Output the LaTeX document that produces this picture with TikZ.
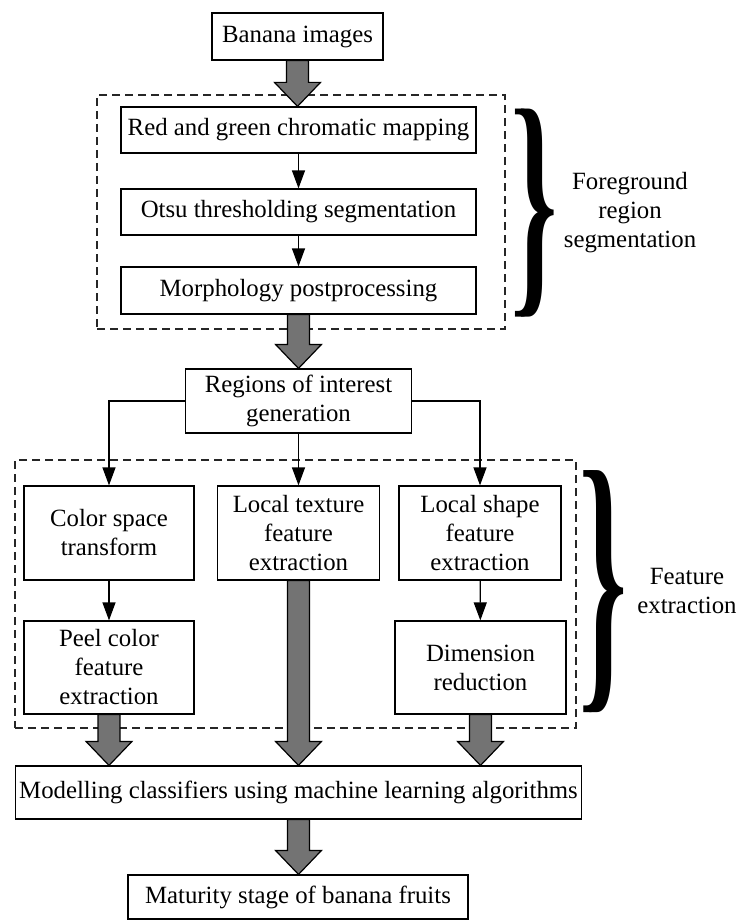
\documentclass[tikz,border=0pt]{standalone}
\usepackage{fontspec}
\setmainfont{Liberation Serif}
\usetikzlibrary{arrows.meta,calc,fit,backgrounds}
\tikzset{
  bnbox/.style={draw=black, line width=0.6pt, align=center, inner sep=2pt, fill=white,
    font=\fontsize{12.4}{14.5}\selectfont},
  bnarrow/.style={-{Triangle[length=9pt,width=6.5pt]}, line width=0.6pt},
  bnfat/.style={draw=black, fill=black!55, line width=0.6pt},
  bnframe/.style={draw=black!85, dash pattern=on 4pt off 2.5pt, line width=0.6pt, inner sep=0pt},
  bnlabel/.style={align=center, font=\fontsize{12.4}{14.5}\selectfont}
}
% wide grey arrow from the start point straight down to the tip
\newcommand{\fatarrow}[2]{%
  \draw[bnfat] let \p1=(#1), \p2=(#2) in
    (\x1-5.5pt,\y1) -- (\x1-5.5pt,\y2+12pt) -- (\x1-11.5pt,\y2+12pt) -- (\x1,\y2)
    -- (\x1+11.5pt,\y2+12pt) -- (\x1+5.5pt,\y2+12pt) -- (\x1+5.5pt,\y1) -- cycle;}
% heavy stretched curly brace
\newcommand{\bigbrace}[2]{\resizebox*{#1}{#2}{\rlap{\}}\kern0.05em\}}}

\begin{document}
\begin{tikzpicture}[x=0.5pt,y=-0.5pt]
  \useasboundingbox (0,0) rectangle (738,920);
  \node[bnbox, minimum width=85.5pt, minimum height=23.5pt] (banana) at (297.5,36.5) {Banana images};
  \node[bnbox, minimum width=177.5pt, minimum height=23pt] (chroma) at (298.5,130) {Red and green chromatic mapping};
  \node[bnbox, minimum width=177.5pt, minimum height=23pt] (otsu) at (298.5,212) {Otsu thresholding segmentation};
  \node[bnbox, minimum width=177.5pt, minimum height=23.5pt] (morph) at (298.5,290.5) {Morphology postprocessing};
  \node[bnbox, minimum width=113pt, minimum height=32pt] (roi) at (298.5,401) {Regions of interest\\generation};
  \node[bnbox, minimum width=85pt, minimum height=47pt] (colsp) at (109,533) {Color space\\transform};
  \node[bnbox, minimum width=81pt, minimum height=47pt] (texture) at (298.5,533) {Local texture\\feature\\extraction};
  \node[bnbox, minimum width=81pt, minimum height=47pt] (shape) at (480,533) {Local shape\\feature\\extraction};
  \node[bnbox, minimum width=85pt, minimum height=46.5pt] (peel) at (109,667.5) {Peel color\\feature\\extraction};
  \node[bnbox, minimum width=85.5pt, minimum height=46.5pt] (dimred) at (480.5,667.5) {Dimension\\reduction};
  \node[bnbox, minimum width=281.5pt, minimum height=26.5pt] (model) at (298.5,792.5) {Modelling classifiers using machine learning algorithms};
  \node[bnbox, minimum width=170pt, minimum height=22pt] (mature) at (298,897) {Maturity stage of banana fruits};
  % braces and their labels
  \node[inner sep=0pt] (segbrace) at (534.5,213.5) {\bigbrace{29pt}{104pt}};
  \node[bnlabel] (seglabel) at (630,213) {Foreground\\region\\segmentation};
  \node[inner sep=0pt] (featbrace) at (603.5,591.5) {\bigbrace{30pt}{121pt}};
  \node[bnlabel] (featlabel) at (687,591) {Feature\\extraction};
  \draw[bnarrow] (chroma) -- (otsu);
  \draw[bnarrow] (otsu) -- (morph);
  \draw[bnarrow] (roi.west) -| (colsp.north);
  \draw[bnarrow] (roi) -- (texture);
  \draw[bnarrow] (roi.east) -| (shape.north);
  \draw[bnarrow] (colsp) -- (peel);
  \draw[bnarrow] (shape) -- (dimred);
  \fatarrow{banana.south}{chroma.north}
  \fatarrow{morph.south}{roi.north}
  \fatarrow{peel.south}{peel.south |- model.north}
  \fatarrow{texture.south}{model.north}
  \fatarrow{dimred.south}{dimred.south |- model.north}
  \fatarrow{model.south}{mature.north}
  \begin{scope}[on background layer]
    \node[bnframe, fit={(97,95)(505,329)}] (segframe) {};
    \node[bnframe, fit={(15,460)(576,728)}] (featframe) {};
  \end{scope}
\end{tikzpicture}
\end{document}
